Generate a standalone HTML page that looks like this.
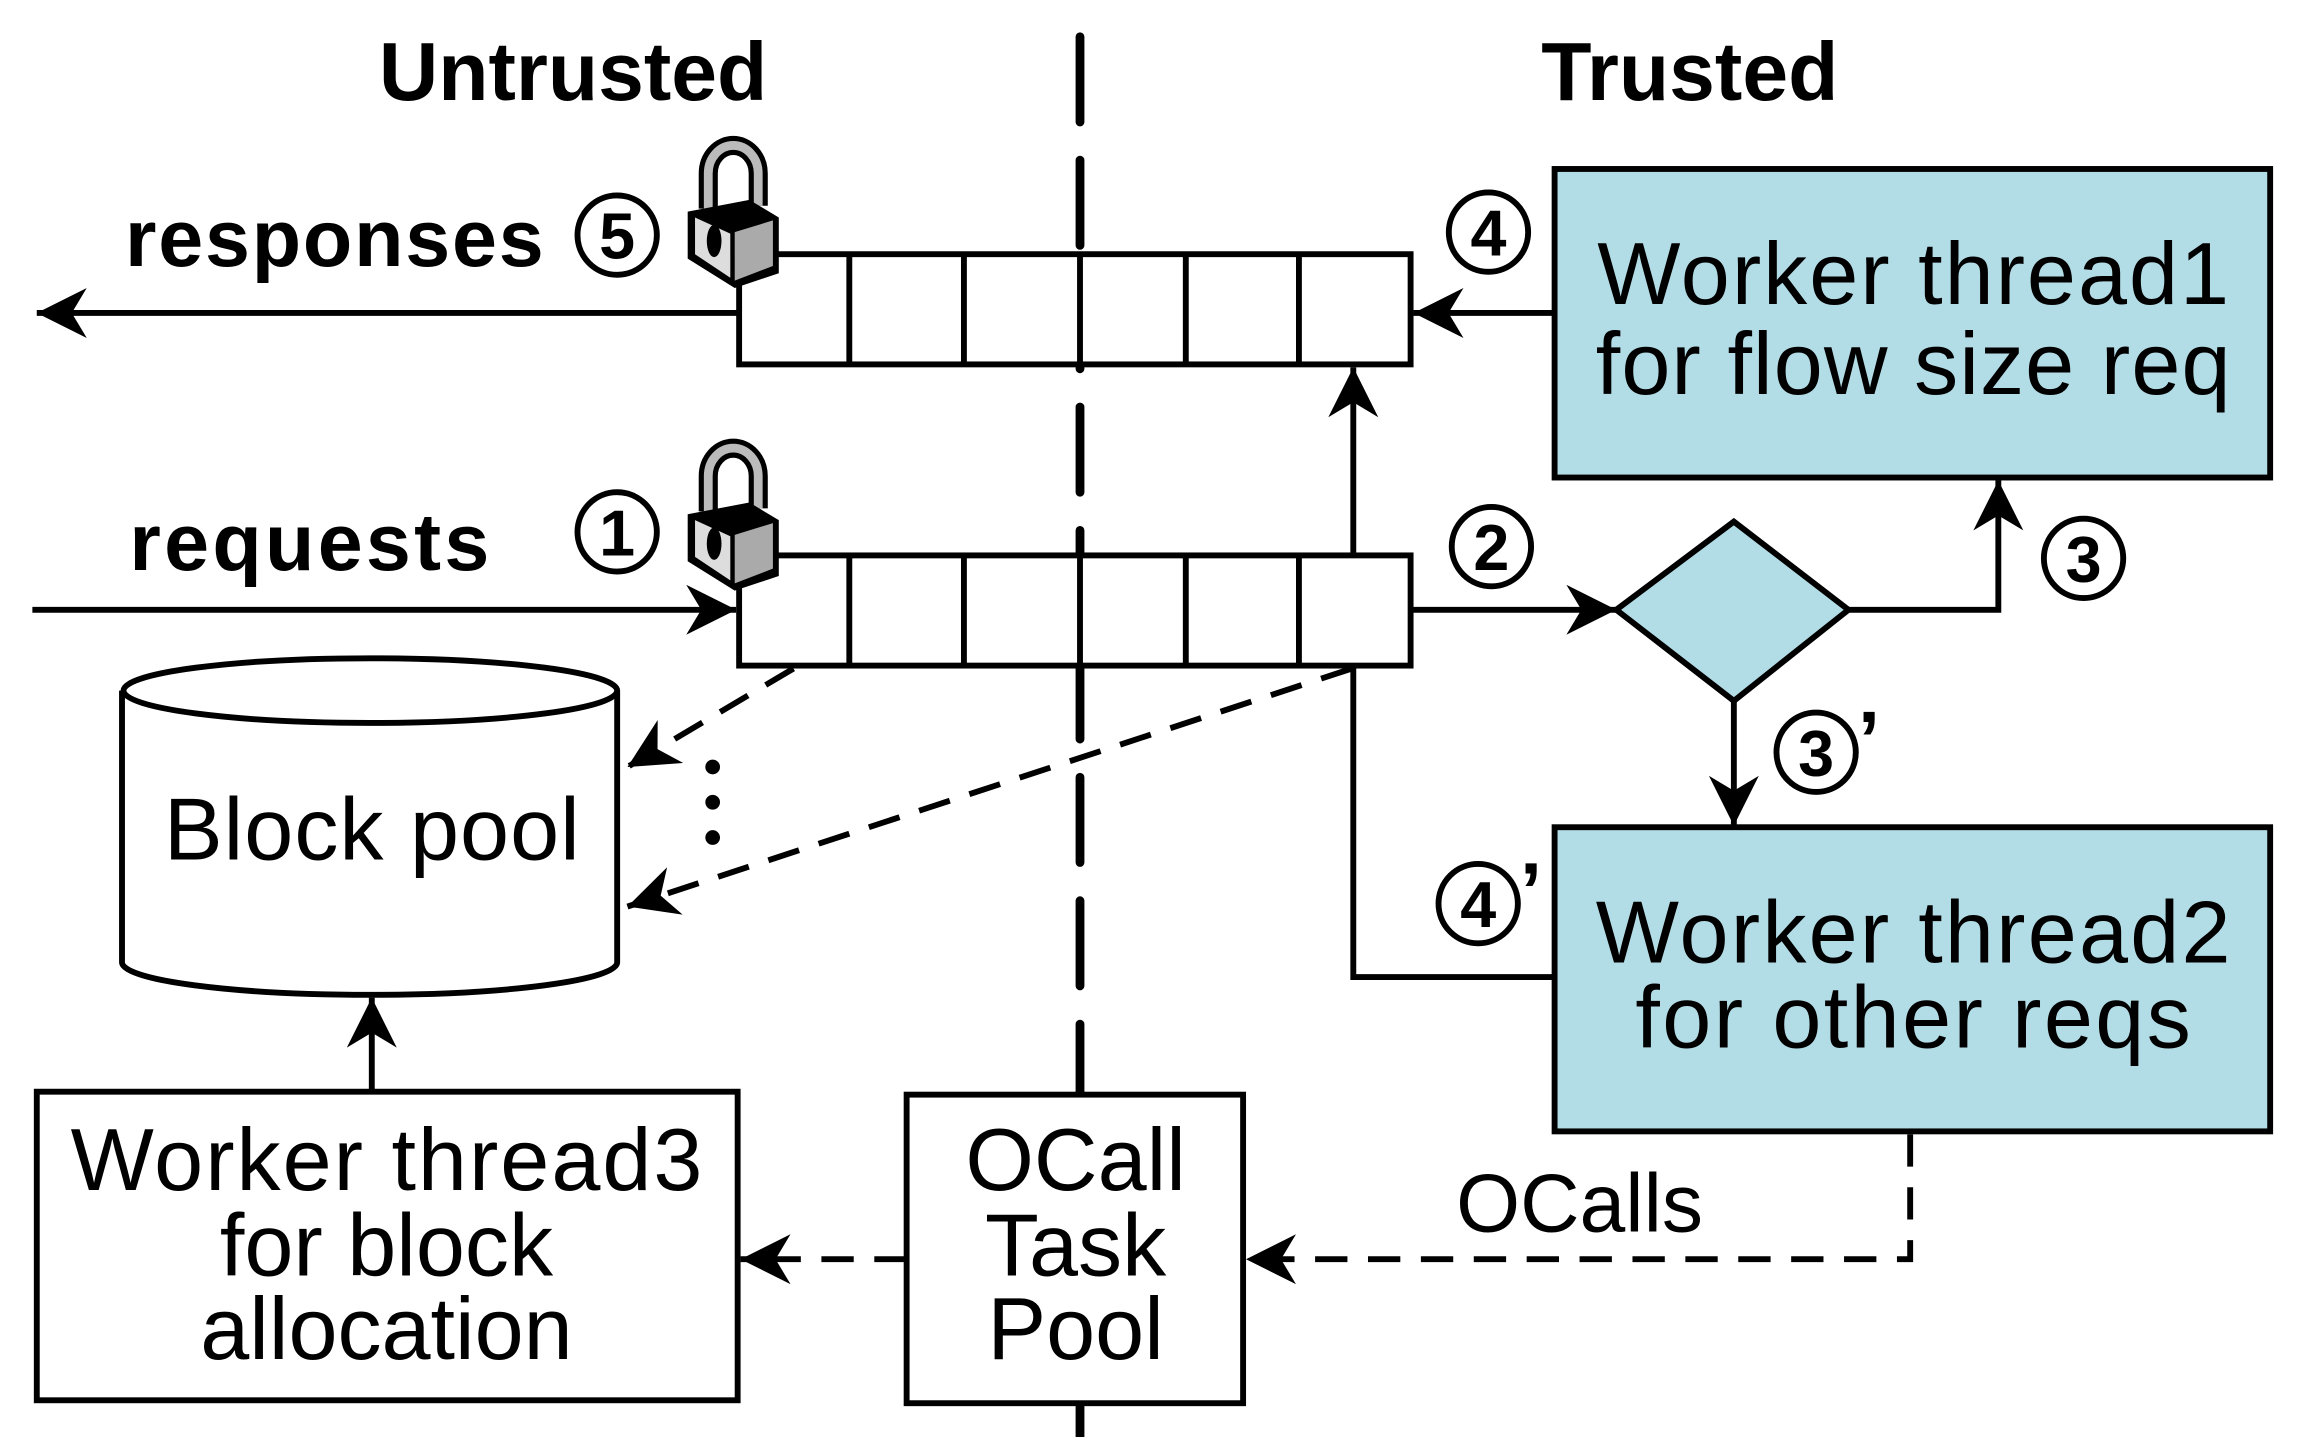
<!DOCTYPE html>
<html><head><meta charset="utf-8"><style>html,body{margin:0;padding:0;background:#fff}svg{display:block}</style></head>
<body>
<svg width="2304" height="1437" viewBox="0 0 1568 978" xmlns="http://www.w3.org/2000/svg" font-family="Liberation Sans, DejaVu Sans, sans-serif">
<defs>
<marker id="b" viewBox="0 0 10 10" refX="10" refY="5" markerWidth="34" markerHeight="34" markerUnits="userSpaceOnUse" orient="auto"><path d="M0,0 L10,5 L0,10 L3,5 z" fill="#000"/></marker>
<g id="lock">
<path d="M14,46 V22 a17,19 0 0 1 34,0 V44" fill="none" stroke="#000" stroke-width="13"/>
<path d="M14,46 V22 a17,19 0 0 1 34,0 V44" fill="none" stroke="#bbb" stroke-width="6"/>
<path d="M0,48 L42,40 L62,52 L62,90 L32,100 L0,80 z" fill="#000"/>
<path d="M5,52 L29,63 L29,93 L5,77 z" fill="#ddd"/>
<path d="M32,62 L58,54 L58,85 L32,95 z" fill="#aaa"/>
<ellipse cx="18" cy="68" rx="5" ry="11" fill="#000"/>
</g>
</defs>
<rect width="1568" height="978" fill="#fff"/>
<g font-weight="bold" font-size="56" text-anchor="middle">
<text x="390" y="68">Untrusted</text>
<text x="1150" y="68">Trusted</text>
</g>
<line x1="735" y1="25" x2="735" y2="978" stroke="#000" stroke-width="6" stroke-dasharray="58,26" stroke-linecap="round"/>
<g font-weight="bold" font-size="55">
<text x="85" y="181" textLength="285">responses</text>
<text x="88" y="388" textLength="245">requests</text>
</g>
<g text-anchor="middle" font-weight="bold" font-size="44">
<circle cx="420" cy="160" r="27" fill="none" stroke="#000" stroke-width="4"/><text x="420" y="176">5</text>
<circle cx="420" cy="362" r="27" fill="none" stroke="#000" stroke-width="4"/><text x="420" y="378">1</text>
<circle cx="1013" cy="158" r="27" fill="none" stroke="#000" stroke-width="4"/><text x="1013" y="174">4</text>
<circle cx="1015" cy="372" r="27" fill="none" stroke="#000" stroke-width="4"/><text x="1015" y="388">2</text>
<circle cx="1418" cy="380" r="27" fill="none" stroke="#000" stroke-width="4"/><text x="1418" y="396">3</text>
<circle cx="1236" cy="512" r="27" fill="none" stroke="#000" stroke-width="4"/><text x="1236" y="528">3</text><text x="1272" y="522" font-size="54">’</text>
<circle cx="1006" cy="615" r="27" fill="none" stroke="#000" stroke-width="4"/><text x="1006" y="631">4</text><text x="1042" y="625" font-size="54">’</text>
</g>
<g stroke="#000" stroke-width="4" fill="#fff">
<rect x="503" y="173" width="457" height="75"/>
<rect x="503" y="378" width="457" height="75"/>
<path d="M578,173V248M656,173V248M807,173V248M884,173V248M578,378V453M656,378V453M807,378V453M884,378V453" fill="none"/>
<rect x="1058" y="115" width="487" height="210" fill="#b3dde6"/>
<rect x="1058" y="563" width="487" height="207" fill="#b3dde6"/>
<path d="M1100,415 L1180,355 L1258,415 L1180,477 z" fill="#b3dde6"/>
<rect x="25" y="743" width="477" height="210"/>
<rect x="617" y="745" width="229" height="210"/>
<path d="M83,470 V655 A168,22 0 0 0 420,655 V470" />
<ellipse cx="252" cy="470" rx="168" ry="22"/>
</g>
<line x1="735" y1="173" x2="735" y2="248" stroke="#000" stroke-width="4"/>
<line x1="735" y1="378" x2="735" y2="453" stroke="#000" stroke-width="4"/>
<g stroke="#000" stroke-width="4" fill="none">
<line x1="503" y1="213" x2="25" y2="213" marker-end="url(#b)"/>
<line x1="1058" y1="213" x2="962" y2="213" marker-end="url(#b)"/>
<line x1="22" y1="415" x2="501" y2="415" marker-end="url(#b)"/>
<line x1="921" y1="378" x2="921" y2="250" marker-end="url(#b)"/>
<path d="M921,453 V665 H1058"/>
<line x1="960" y1="415" x2="1100" y2="415" marker-end="url(#b)"/>
<path d="M1258,415 H1360 V327" marker-end="url(#b)"/>
<line x1="1180" y1="477" x2="1180" y2="562" marker-end="url(#b)"/>
<line x1="253" y1="743" x2="253" y2="679" marker-end="url(#b)"/>
<g stroke-dasharray="22,14">
<line x1="540" y1="455" x2="427" y2="522" marker-end="url(#b)"/>
<line x1="920" y1="455" x2="427" y2="617" marker-end="url(#b)"/>
<line x1="617" y1="857" x2="504" y2="857" marker-end="url(#b)"/>
<path d="M1300,772 V857 H848" marker-end="url(#b)"/>
</g>
</g>
<g fill="#000"><circle cx="485" cy="522" r="5"/><circle cx="485" cy="546" r="5"/><circle cx="485" cy="570" r="5"/></g>
<use href="#lock" x="468" y="96"/>
<use href="#lock" x="468" y="302"/>
<g font-size="60" text-anchor="middle">
<text x="1302" y="207" textLength="430">Worker thread1</text>
<text x="1302" y="268" textLength="432">for flow size req</text>
<text x="1302" y="655" textLength="432">Worker thread2</text>
<text x="1302" y="713" textLength="378">for other reqs</text>
<text x="253" y="585" textLength="283">Block pool</text>
<text x="263" y="810" textLength="430">Worker thread3</text>
<text x="263" y="868">for block</text>
<text x="263" y="925">allocation</text>
<text x="732" y="810">OCall</text>
<text x="732" y="868">Task</text>
<text x="732" y="925">Pool</text>
<text x="1075" y="838" font-size="56">OCalls</text>
</g>
</svg>
</body></html>
